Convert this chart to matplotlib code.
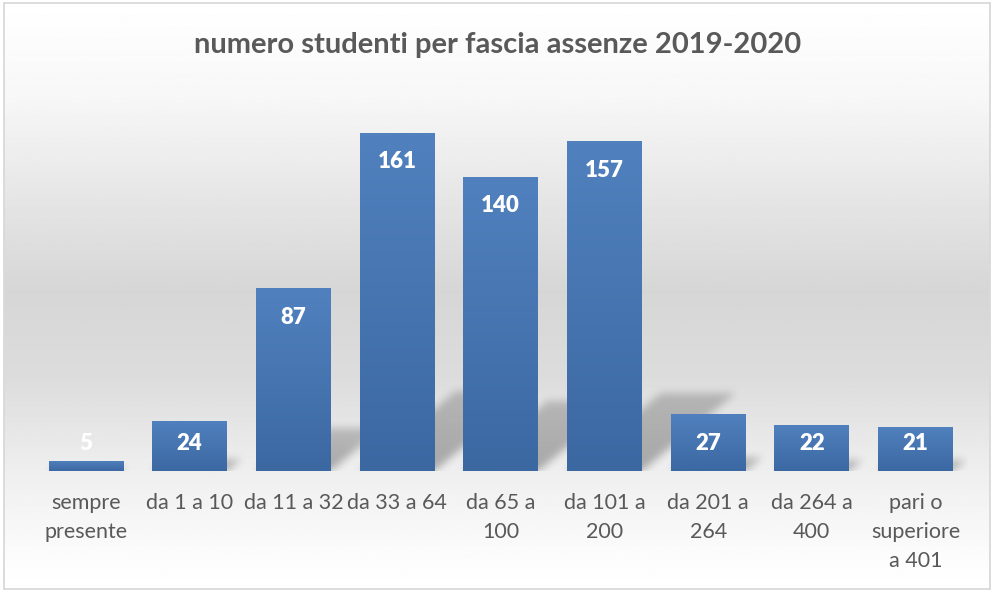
import numpy as np
import matplotlib
matplotlib.use("Agg")
import matplotlib.pyplot as plt
from matplotlib.patches import Rectangle

# ---------------- data ----------------
categories = ["sempre\npresente", "da 1 a 10", "da 11 a 32", "da 33 a 64",
              "da 65 a\n100", "da 101 a\n200", "da 201 a\n264", "da 264 a\n400",
              "pari o\nsuperiore\na 401"]
values = [5, 24, 87, 161, 140, 157, 27, 22, 21]
title = "numero studenti per fascia assenze 2019-2020"

plt.rcParams['font.family'] = ['Lato', 'DejaVu Sans']

W, H = 995, 592
fig = plt.figure(figsize=(W / 100, H / 100), dpi=100)
fig.patch.set_facecolor("white")

# ---------------- background with vertical gradient ----------------
bg = fig.add_axes([0, 0, 1, 1])
bg.set_axis_off()
bg.set_xlim(0, W)
bg.set_ylim(H, 0)
yy = np.arange(H)
stops_y = [0, 95, 188, 290, 376, 470, 560, 592]
stops_v = [255, 247, 231, 214, 220, 238, 252, 255]
g = np.interp(yy, stops_y, stops_v) / 255.0
grad = np.repeat(g[:, None], 4, axis=1)
bg.imshow(grad, cmap="gray", vmin=0, vmax=1, extent=(4, 990, 589, 3),
          aspect="auto", interpolation="bilinear", zorder=0)
bg.add_patch(Rectangle((4, 3), 986, 586, fill=False, edgecolor="#d9d9d9",
                       linewidth=1.3, zorder=1))
bg.set_xlim(0, W)
bg.set_ylim(H, 0)

# ---------------- main axes ----------------
left_px, right_px = 34.15, 967.35
base_px, top_px = 471, 93
ax = fig.add_axes([left_px / W, (H - base_px) / H,
                   (right_px - left_px) / W, (base_px - top_px) / H])
ax.set_facecolor("none")
ax.patch.set_alpha(0)
n = len(values)
XL = (-0.5, n - 0.5)
YL = (0, 180)
ax.set_xlim(*XL)
ax.set_ylim(*YL)

bars = ax.bar(range(n), values, width=0.72, color="#4677b3", zorder=3)

# gradient fill on bars
top_c = np.array([0x50, 0x81, 0xbe]) / 255
bot_c = np.array([0x3c, 0x68, 0xa2]) / 255
t = np.linspace(0, 1, 64)[:, None]
bar_grad = (bot_c[None, :] * (1 - t) + top_c[None, :] * t)[:, None, :]
for p in bars:
    x0, w, h = p.get_x(), p.get_width(), p.get_height()
    im = ax.imshow(bar_grad, extent=(x0, x0 + w, 0, h), origin="lower",
                   aspect="auto", interpolation="bilinear", zorder=3.5)
    im.set_clip_path(p)

# ---------------- perspective shadow (raster, blurred) ----------------
axw = int(round(right_px - left_px))
axh = int(round(base_px - top_px))
px_per_x = axw / (XL[1] - XL[0])
px_per_y = axh / (YL[1] - YL[0])
alpha = np.zeros((axh, axw))
cols = np.arange(axw)
for p in bars:
    xl = (p.get_x() - XL[0]) * px_per_x
    xr = xl + p.get_width() * px_per_x
    hp = p.get_height() * px_per_y
    hs = 0.235 * hp
    for py in range(int(hs) + 1):
        shift = 1.2 * py
        m = (cols >= xl + shift) & (cols <= xr + shift)
        a = 0.30 * (1 - 0.35 * py / max(hs, 1))
        alpha[py, m] = np.maximum(alpha[py, m], a)

def blur1d(arr, sigma, axis):
    r = int(3 * sigma)
    k = np.exp(-0.5 * (np.arange(-r, r + 1) / sigma) ** 2)
    k /= k.sum()
    return np.apply_along_axis(lambda v: np.convolve(v, k, mode="same"), axis, arr)

alpha = blur1d(blur1d(alpha, 4, 0), 4, 1)
rgba = np.zeros((axh, axw, 4))
rgba[..., 3] = alpha
ax.imshow(rgba, extent=(XL[0], XL[1], YL[0], YL[1]), origin="lower",
          aspect="auto", interpolation="bilinear", zorder=2)
ax.set_xlim(*XL)
ax.set_ylim(*YL)

# ---------------- data labels ----------------
for i, v in enumerate(values):
    y = max(v - 29 / px_per_y, 28 / px_per_y)
    ax.text(i, y, str(v), ha="center", va="center", color="white",
            fontsize=16, fontweight="heavy", zorder=5)

# ---------------- axes styling ----------------
ax.set_xticks(range(n), categories)
ax.tick_params(axis="x", length=0, pad=16, colors="#595959", labelsize=15.5)
for lbl in ax.get_xticklabels():
    lbl.set_linespacing(1.54)
ax.set_yticks([])
for s in ax.spines.values():
    s.set_visible(False)

fig.text(0.5, 1 - 52.5 / H, title, ha="center", va="baseline", color="#595959",
         fontsize=21, fontweight="bold")

fig.savefig("out.png", dpi=100)
